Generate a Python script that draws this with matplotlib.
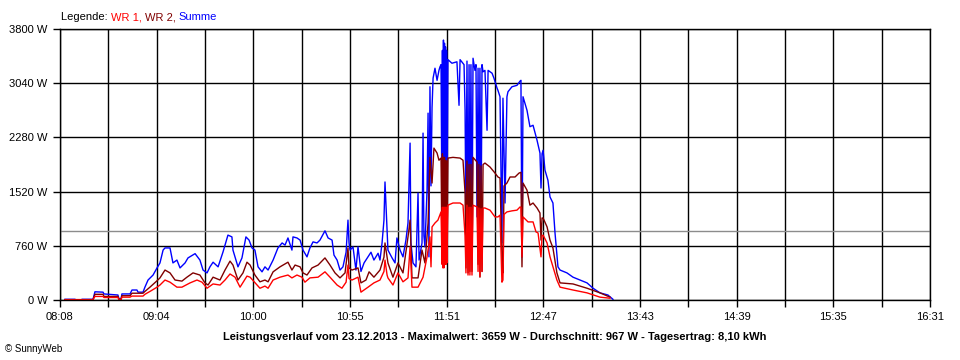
import matplotlib.pyplot as plt
import numpy as np

plt.rcParams['font.family'] = ['Liberation Sans', 'DejaVu Sans']

# time in minutes since midnight, power in W
t_sum = [490.9, 496.7, 497.3, 500.1, 500.7, 507.1, 508.2, 512.9, 513.4, 521.5, 522.1, 523.3, 523.8, 528.5,
         529.6, 532.5, 533.1, 536.0, 537.1, 538.9, 541.8, 544.1, 545.8, 547.6, 548.7, 551.6, 553.3, 555.6,
         557.4, 560.3, 562.0, 566.1, 568.9, 570.7, 573.0, 574.7, 576.5, 579.4, 582.2, 585.1, 587.4, 588.0,
         590.9, 593.2, 595.5, 597.3, 599.0, 600.7, 602.5, 604.8, 606.5, 608.3, 611.2, 614.0, 616.4, 618.1,
         619.8, 622.1, 622.7, 625.0, 626.8, 628.5, 630.8, 632.5, 634.3, 636.6, 638.3, 641.2, 643.0, 645.3,
         646.4, 648.2, 649.9, 651.6, 653.4, 654.5, 655.1, 655.7, 657.4, 659.1, 660.3, 662.0, 663.8, 666.1,
         667.8, 669.5, 671.9, 673.0, 674.2, 675.3, 675.9, 676.5, 677.1, 677.6, 680.0, 681.7, 682.8, 684.6,
         686.3, 688.0, 689.2, 690.4, 690.9, 692.1, 693.8, 695.0, 695.6, 697.3, 697.9, 698.4, 699.0, 700.2,
         700.8, 701.3, 701.9, 702.5, 703.1, 703.7, 704.8, 706.0, 707.1, 707.7, 708.3, 708.9, 709.1, 709.4,
         709.7, 710.0, 710.3, 710.6, 710.9, 711.2, 711.5, 711.7, 712.3, 714.6, 717.5, 718.7, 719.3, 721.0,
         721.6, 722.2, 722.7, 723.3, 723.9, 724.5, 725.0, 725.6, 726.2, 726.8, 727.9, 728.5, 729.1, 729.7,
         730.2, 730.8, 731.4, 732.0, 732.6, 733.7, 734.9, 735.5, 737.8, 738.9, 740.7, 741.2, 742.4, 743.5,
         744.1, 745.3, 746.4, 747.0, 749.3, 752.2, 754.0, 754.5, 755.1, 755.7, 758.0, 759.7, 761.5, 763.8,
         765.5, 766.1, 766.7, 767.3, 768.4, 770.1, 771.3, 773.0, 774.2, 775.9, 777.1, 781.1, 784.6, 788.6,
         792.7, 796.2, 800.2, 804.8, 807.7]
p_sum = [10, 10, 0, 0, 10, 10, 115, 110, 85, 70, 15, 15, 85, 85,
         140, 140, 110, 110, 180, 280, 350, 450, 520, 700, 730, 730, 520, 560,
         450, 520, 590, 650, 560, 420, 380, 465, 530, 465, 670, 910, 885, 700,
         465, 590, 885, 840, 730, 700, 465, 395, 465, 420, 560, 730, 800, 770,
         870, 700, 885, 870, 840, 700, 605, 730, 815, 800, 840, 970, 870, 840,
         630, 560, 420, 465, 670, 1120, 800, 700, 745, 420, 745, 400, 520, 605,
         670, 560, 655, 560, 800, 1120, 1655, 1300, 980, 700, 590, 520, 870, 700,
         605, 840, 1080, 2200, 800, 520, 465, 1500, 560, 800, 2340, 900, 745, 1540,
         2620, 605, 2990, 1600, 2700, 3110, 3250, 3080, 3220, 3270, 3300, 1000, 3500, 900,
         3645, 800, 3600, 760, 3550, 800, 3500, 900, 3370, 3320, 3340, 2730, 3370, 3320,
         3300, 2660, 1000, 3350, 700, 3300, 800, 3300, 760, 3390, 3220, 3300, 1165, 3250,
         800, 3250, 760, 3300, 3200, 3220, 2380, 3220, 3180, 3110, 2970, 2940, 2850, 800,
         2830, 1360, 2850, 2920, 2990, 3010, 3070, 3080, 605, 2850, 2660, 2430, 2450, 2240,
         2060, 1570, 2050, 2100, 1820, 1680, 1445, 1360, 940, 465, 420, 380, 320, 280,
         240, 165, 100, 70, 10]

t_wr2 = [490.9, 507.1, 508.2, 512.9, 513.4, 521.5, 522.1, 523.3, 523.8, 528.5, 529.6, 536.0, 537.1, 540.0,
         544.1, 545.8, 548.7, 551.6, 554.5, 558.5, 561.4, 564.9, 568.9, 571.8, 573.6, 576.5, 580.5, 583.4,
         586.3, 588.0, 590.9, 593.8, 596.1, 597.9, 600.7, 603.6, 606.5, 608.3, 611.2, 615.2, 619.8, 622.1,
         623.9, 626.8, 628.5, 630.8, 633.7, 637.2, 641.2, 644.1, 647.0, 649.9, 652.8, 654.5, 655.1, 656.8,
         660.3, 662.0, 664.9, 666.7, 669.5, 673.0, 675.3, 675.9, 677.1, 677.6, 680.5, 683.4, 686.3, 689.2,
         690.4, 691.5, 695.0, 697.3, 699.0, 700.8, 701.9, 703.1, 704.2, 706.0, 707.1, 708.3, 708.9, 709.1,
         709.4, 709.7, 710.0, 710.3, 710.6, 710.9, 711.2, 711.5, 711.7, 712.3, 715.2, 719.3, 721.0, 722.2,
         722.7, 723.3, 723.9, 724.5, 725.0, 725.6, 726.2, 726.8, 729.1, 729.7, 730.2, 730.8, 731.4, 732.0,
         732.6, 733.7, 736.6, 739.5, 741.2, 742.4, 743.5, 744.1, 744.7, 746.4, 748.2, 751.1, 753.4, 754.5,
         755.1, 755.7, 758.0, 759.7, 761.5, 763.8, 765.5, 766.1, 766.7, 767.3, 769.6, 771.3, 773.0, 775.3,
         777.1, 784.6, 792.7, 800.2, 806.0]
p_wr2 = [5, 5, 80, 80, 50, 50, 10, 10, 60, 60, 95, 95, 120, 180,
         270, 310, 420, 380, 280, 265, 320, 380, 350, 240, 210, 320, 280, 420,
         545, 490, 280, 380, 530, 490, 350, 255, 280, 255, 395, 465, 530, 420,
         490, 465, 380, 350, 450, 490, 590, 490, 380, 310, 380, 730, 450, 420,
         450, 240, 280, 395, 320, 420, 600, 800, 600, 520, 320, 520, 380, 885,
         1120, 310, 310, 700, 520, 1080, 2000, 1640, 2130, 2060, 1960, 1990, 600, 2050,
         520, 2000, 500, 2000, 520, 1950, 550, 1950, 600, 1990, 2000, 1990, 1960, 1500,
         450, 1950, 380, 1900, 400, 1900, 400, 2000, 1935, 500, 1900, 320, 1880, 400,
         1900, 1920, 1865, 1780, 1725, 1710, 605, 380, 1600, 1640, 1725, 1725, 1780, 1790,
         465, 1640, 1540, 1330, 1360, 1290, 1220, 840, 1150, 1150, 1025, 840, 730, 380,
         240, 225, 165, 100, 40]

t_wr1 = [490.9, 507.1, 508.2, 512.9, 513.4, 521.5, 522.1, 523.3, 523.8, 528.5, 529.6, 536.0, 537.1, 540.0,
         544.1, 545.8, 548.7, 551.6, 555.6, 558.5, 563.2, 567.2, 570.1, 573.0, 576.5, 580.5, 583.4, 586.3,
         589.2, 592.1, 596.1, 597.9, 601.9, 603.6, 606.5, 608.3, 611.2, 615.2, 619.8, 622.1, 625.0, 627.9,
         629.6, 632.5, 637.2, 641.2, 644.1, 648.2, 651.0, 653.4, 654.5, 655.1, 656.8, 660.3, 662.0, 666.1,
         669.5, 673.0, 675.3, 675.9, 677.1, 677.6, 680.5, 683.4, 686.3, 689.2, 690.4, 691.5, 695.0, 697.9,
         700.2, 701.9, 702.5, 703.1, 704.8, 706.5, 708.3, 708.9, 709.1, 709.4, 709.7, 710.0, 710.3, 710.6,
         710.9, 711.2, 711.5, 711.7, 712.3, 715.2, 719.3, 721.0, 722.2, 722.7, 723.3, 723.9, 724.5, 725.0,
         725.6, 726.2, 726.8, 729.1, 729.7, 730.2, 730.8, 731.4, 732.0, 732.6, 733.7, 736.6, 739.5, 741.2,
         742.4, 743.5, 744.1, 744.7, 746.4, 749.3, 752.2, 754.0, 754.5, 755.1, 755.7, 758.6, 761.5, 763.2,
         764.4, 766.1, 766.7, 767.3, 769.6, 771.3, 773.0, 775.3, 777.1, 784.6, 792.7, 800.2, 806.0]
p_wr1 = [5, 5, 50, 50, 35, 35, 5, 5, 40, 40, 55, 55, 80, 120,
         180, 210, 280, 250, 180, 180, 240, 280, 250, 165, 225, 210, 280, 365,
         320, 180, 335, 320, 210, 165, 195, 165, 280, 320, 350, 310, 350, 320,
         250, 310, 320, 395, 320, 210, 165, 250, 490, 300, 280, 320, 110, 180,
         240, 280, 400, 560, 350, 310, 210, 380, 255, 310, 745, 180, 180, 320,
         605, 885, 465, 1025, 1080, 1120, 1235, 500, 1300, 450, 1300, 450, 1300, 500,
         1300, 500, 1300, 520, 1330, 1360, 1360, 1330, 900, 380, 1330, 350, 1300, 350,
         1300, 350, 1330, 1305, 400, 1290, 330, 1280, 400, 1290, 1290, 1260, 1165, 1165,
         1190, 250, 280, 1200, 1235, 1250, 1260, 1305, 1300, 605, 1165, 1095, 1095, 955,
         940, 605, 900, 910, 800, 605, 465, 280, 180, 140, 100, 40, 25]

average = 967
y_ticks = [0, 760, 1520, 2280, 3040, 3800]
x_labels = ['08:08', '09:04', '10:00', '10:55', '11:51', '12:47', '13:43', '14:39', '15:35', '16:31']
t_start, t_end = 488, 991  # 08:08 .. 16:31

fig = plt.figure(figsize=(9.6, 3.6), dpi=100)
ax = fig.add_axes([60 / 960, 60 / 360, 870 / 960, 271 / 360])

x_ticks = np.linspace(t_start, t_end, 19)
tick_text = []
for i in range(len(x_ticks)):
    tick_text.append(x_labels[i // 2] if i % 2 == 0 else '')
ax.set_xticks(x_ticks)
ax.set_xticklabels(tick_text, fontsize=8)
ax.set_yticks(y_ticks)
ax.set_yticklabels(['%d W' % v for v in y_ticks], fontsize=8)
ax.grid(True, color='black', linewidth=1)
ax.axhline(average, color='#8c8c8c', linewidth=1)

ax.plot(t_sum, p_sum, color='#0000ff', linewidth=1)
ax.plot(t_wr2, p_wr2, color='#800000', linewidth=1)
ax.plot(t_wr1, p_wr1, color='#ff0000', linewidth=1)

ax.set_xlim(t_start, t_end)
ax.set_ylim(0, 3800)
ax.tick_params(direction='out', length=5, width=1, pad=4)
for s in ax.spines.values():
    s.set_linewidth(1)

# multicoloured legend line, each piece placed at the width of the text before it
fig.canvas.draw()
r = fig.canvas.get_renderer()


def text_width(s):
    tmp = fig.text(0, 0, s + '|', fontsize=8)
    w = tmp.get_window_extent(renderer=r).width
    tmp.remove()
    bar = fig.text(0, 0, '|', fontsize=8)
    wb = bar.get_window_extent(renderer=r).width
    bar.remove()
    return w - wb


pieces = [('Legende: ', 'black'), ('WR 1, ', '#ff0000'), ('WR 2, ', '#800000'), ('Summe', '#0000ff')]
prefix = ''
for txt, col in pieces:
    x = 61 + text_width(prefix) if prefix else 61
    fig.text(x / 960, 1 - 17 / 360, txt, color=col, fontsize=8, va='center', ha='left')
    prefix += txt

fig.text(495 / 960, 1 - 337 / 360,
         'Leistungsverlauf vom 23.12.2013 - Maximalwert: 3659 W - Durchschnitt: 967 W - Tagesertrag: 8,10 kWh',
         fontsize=8, fontweight='bold', ha='center', va='center')
fig.text(5 / 960, 1 - 349 / 360, '\u00a9 SunnyWeb', fontsize=7, ha='left', va='center')

fig.savefig('out.png', dpi=100)
